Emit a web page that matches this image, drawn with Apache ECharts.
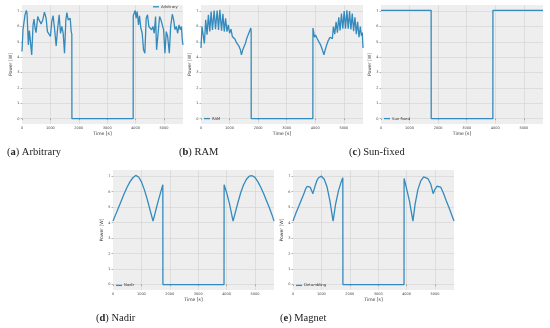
<!DOCTYPE html>
<html>
<head>
<meta charset="utf-8">
<script src="https://cdn.jsdelivr.net/npm/echarts@6/dist/echarts.min.js"></script>
<style>html,body{margin:0;padding:0;background:#fff;}#chart{width:550px;height:328px;}</style>
</head>
<body>
<div id="chart"></div>
<script>
// Time [s] / Power [W] pairs
const arbitrary = [[0,4.37],[35,5.8],[71,5.9],[106,6.76],[153,7.04],[177,6.87],[224,4.8],[259,5.74],[295,5.67],[342,4.15],[389,6.1],[424,6.48],[460,5.9],[495,5.6],[554,6.65],[601,6.43],[672,6.17],[731,6.43],[790,6.93],[849,6.54],[896,5.67],[943,5.72],[1002,5.35],[1049,6.33],[1096,6.7],[1144,5.9],[1203,4.74],[1250,5.78],[1309,6.76],[1356,5.56],[1403,6.0],[1450,5.56],[1497,4.26],[1545,6.43],[1580,6.91],[1627,6.43],[1662,6.43],[1698,6.54],[1733,5.67],[1755,5.5],[1758,0],[3915,0],[3918,6.7],[3950,6.76],[3985,7.04],[4020,6.54],[4056,6.98],[4103,6.1],[4138,6.7],[4185,5.9],[4233,5.56],[4280,4.48],[4327,4.26],[4374,6.54],[4421,6.76],[4468,6.0],[4516,5.9],[4563,5.78],[4610,6.0],[4657,5.56],[4704,6.65],[4740,4.48],[4787,4.37],[4846,6.65],[4893,6.43],[4940,6.54],[4987,5.78],[5034,4.26],[5081,5.67],[5129,5.35],[5188,4.26],[5235,6.0],[5294,6.8],[5341,6.43],[5388,5.8],[5435,6.0],[5482,5.56],[5530,6.1],[5577,5.78],[5615,6.0],[5645,5.13],[5670,4.8]];

const ram = [[0,4.6],[35,6.0],[71,6.1],[118,4.9],[165,6.43],[212,5.46],[259,6.76],[307,5.67],[354,6.98],[401,5.78],[460,7.04],[507,5.83],[566,7.04],[613,5.78],[660,7.08],[719,5.72],[766,6.83],[814,5.67],[861,6.54],[908,5.67],[955,6.1],[1002,5.56],[1049,5.83],[1096,5.35],[1144,5.46],[1191,5.17],[1238,4.96],[1285,4.91],[1332,4.7],[1380,4.48],[1415,4.15],[1462,4.48],[1509,4.7],[1556,4.91],[1603,5.24],[1651,5.46],[1698,5.35],[1745,5.9],[1756,5.6],[1758,0],[3915,0],[3918,5.9],[3973,5.3],[4009,5.45],[4068,5.2],[4127,5.0],[4186,4.8],[4245,4.5],[4303,4.15],[4351,4.5],[4398,4.8],[4457,5.1],[4516,5.3],[4563,5.4],[4598,5.2],[4634,6.0],[4681,5.5],[4728,6.3],[4775,5.6],[4822,6.6],[4869,5.75],[4916,6.85],[4964,5.85],[5011,7.0],[5058,5.85],[5105,7.05],[5152,5.85],[5199,7.0],[5247,5.8],[5294,6.85],[5341,5.7],[5388,6.6],[5435,5.5],[5482,6.3],[5530,5.3],[5577,6.0],[5615,5.4],[5645,5.6],[5670,4.6]];

const sunFixed = [[0,7.05],[1755,7.05],[1758,0],[3915,0],[3918,7.05],[5670,7.05]];

const nadir = [[0,4.1],[100,4.55],[200,5.0],[300,5.45],[400,5.9],[500,6.3],[600,6.65],[700,6.9],[750,7.0],[800,7.05],[850,7.03],[900,6.95],[1000,6.65],[1100,6.15],[1200,5.55],[1300,4.85],[1410,4.1],[1500,4.75],[1600,5.45],[1700,6.1],[1755,6.45],[1758,0],[3910,0],[3913,6.45],[4000,5.95],[4100,5.25],[4228,4.1],[4300,4.6],[4400,5.3],[4500,5.95],[4600,6.45],[4700,6.8],[4800,7.0],[4850,7.05],[4900,7.03],[5000,6.92],[5100,6.65],[5200,6.3],[5300,5.9],[5400,5.45],[5500,5.0],[5600,4.5],[5670,4.1]];

const detumbling = [[0,4.1],[100,4.6],[200,5.05],[300,5.5],[400,5.95],[450,6.2],[500,6.35],[550,6.4],[600,6.3],[650,6.1],[700,5.87],[750,6.2],[800,6.5],[850,6.75],[900,6.9],[1000,7.0],[1050,6.95],[1100,6.8],[1200,6.3],[1300,5.4],[1412,4.1],[1500,5.2],[1600,6.05],[1700,6.65],[1755,6.9],[1758,0],[3910,0],[3913,6.85],[4000,6.2],[4100,5.4],[4224,4.1],[4300,5.2],[4400,6.15],[4500,6.7],[4600,6.95],[4650,7.0],[4750,6.85],[4850,6.5],[4936,5.87],[5000,6.15],[5070,6.35],[5135,6.4],[5200,6.3],[5300,5.9],[5400,5.4],[5500,4.95],[5600,4.45],[5670,4.1]];

const seriesNames = ['Arbitrary','RAM','Sun-fixed','Nadir','Detumbling'];
const seriesData = [arbitrary, ram, sunFixed, nadir, detumbling];
const captionLetters = ['a','b','c','d','e'];
const captionTexts = ['Arbitrary','RAM','Sun-fixed','Nadir','Magnet'];
const xTicks = [0,1000,2000,3000,4000,5000];
const yTicks = [0,1,2,3,4,5,6,7];

const T_MAX = 5670;
const grids = [
  {left:22, top:5, width:161, height:119},
  {left:201, top:5, width:162, height:119},
  {left:381, top:5, width:162, height:119},
  {left:113, top:170, width:161, height:120},
  {left:293, top:170, width:161, height:120}
];
const legendPos = [
  {left:153, top:4.8},
  {left:204, top:116.6},
  {left:384, top:116.6},
  {left:116, top:283.4},
  {left:296, top:283.4}
];
const captionPos = [
  {left:7, top:146.5},
  {left:179, top:146.5},
  {left:349, top:146.5},
  {left:96, top:313},
  {left:280, top:313}
];

const lineColor = '#348ABD';
const chart = echarts.init(document.getElementById('chart'), null, {renderer:'canvas'});

const option = {
  animation: false,
  backgroundColor: '#ffffff',
  title: captionLetters.map((l,i)=>({
    text: '({b|' + l + '}) ' + captionTexts[i],
    left: captionPos[i].left, top: captionPos[i].top, padding: 0,
    textStyle: {fontFamily:'Liberation Serif', fontSize:10.5, fontWeight:'normal', color:'#222',
      rich:{b:{fontFamily:'Liberation Serif', fontSize:10.5, fontWeight:'bold', color:'#222'}}}
  })),
  legend: seriesNames.map((n,i)=>({
    data:[n], left: legendPos[i].left, top: legendPos[i].top, padding:0, itemGap:0,
    icon:'rect', itemWidth:6, itemHeight:1.3, selectedMode:false,
    textStyle:{fontSize:3.8, color:'#333', fontFamily:'DejaVu Sans', padding:[0,0,0,-3]}
  })),
  grid: grids.map(g=>Object.assign({show:true, backgroundColor:'#eeeeee', borderWidth:0, containLabel:false}, g)),
  xAxis: grids.map((g,i)=>({
    gridIndex:i, type:'value', min:0, max:T_MAX, interval:1000,
    name:'Time [s]', nameLocation:'middle', nameGap:6.5,
    nameTextStyle:{fontSize:4.5, color:'#333', fontFamily:'DejaVu Sans'},
    axisLine:{show:false},
    axisTick:{show:true, length:1.5, lineStyle:{color:'#666', width:0.5}},
    axisLabel:{fontSize:3.5, color:'#444', margin:2, showMaxLabel:false, fontFamily:'DejaVu Sans',
      formatter: v => xTicks.includes(v) ? String(v) : ''},
    splitLine:{show:true, showMaxLine:false, showMinLine:false, lineStyle:{color:'#d6d6d6', width:0.7}}
  })),
  yAxis: grids.map((g,i)=>({
    gridIndex:i, type:'value', min:-0.35, max:7.4, splitNumber:8,
    name:'Power [W]', nameLocation:'middle', nameGap:5, nameRotate:90,
    nameTextStyle:{fontSize:4.5, color:'#333', fontFamily:'DejaVu Sans'},
    axisLine:{show:false},
    axisTick:{show:true, length:1.5, lineStyle:{color:'#666', width:0.5}},
    axisLabel:{fontSize:3.5, color:'#444', margin:2.5, showMinLabel:false, showMaxLabel:false, fontFamily:'DejaVu Sans',
      formatter: v => yTicks.includes(v) ? String(v) : ''},
    splitLine:{show:true, showMaxLine:false, showMinLine:false, lineStyle:{color:'#d6d6d6', width:0.7}}
  })),
  series: seriesData.map((d,i)=>({
    name: seriesNames[i], type:'line', xAxisIndex:i, yAxisIndex:i,
    data: d, showSymbol:false, symbol:'none', smooth:false,
    lineStyle:{color:lineColor, width:1.3}, itemStyle:{color:lineColor}
  }))
};
chart.setOption(option);
</script>
</body>
</html>
